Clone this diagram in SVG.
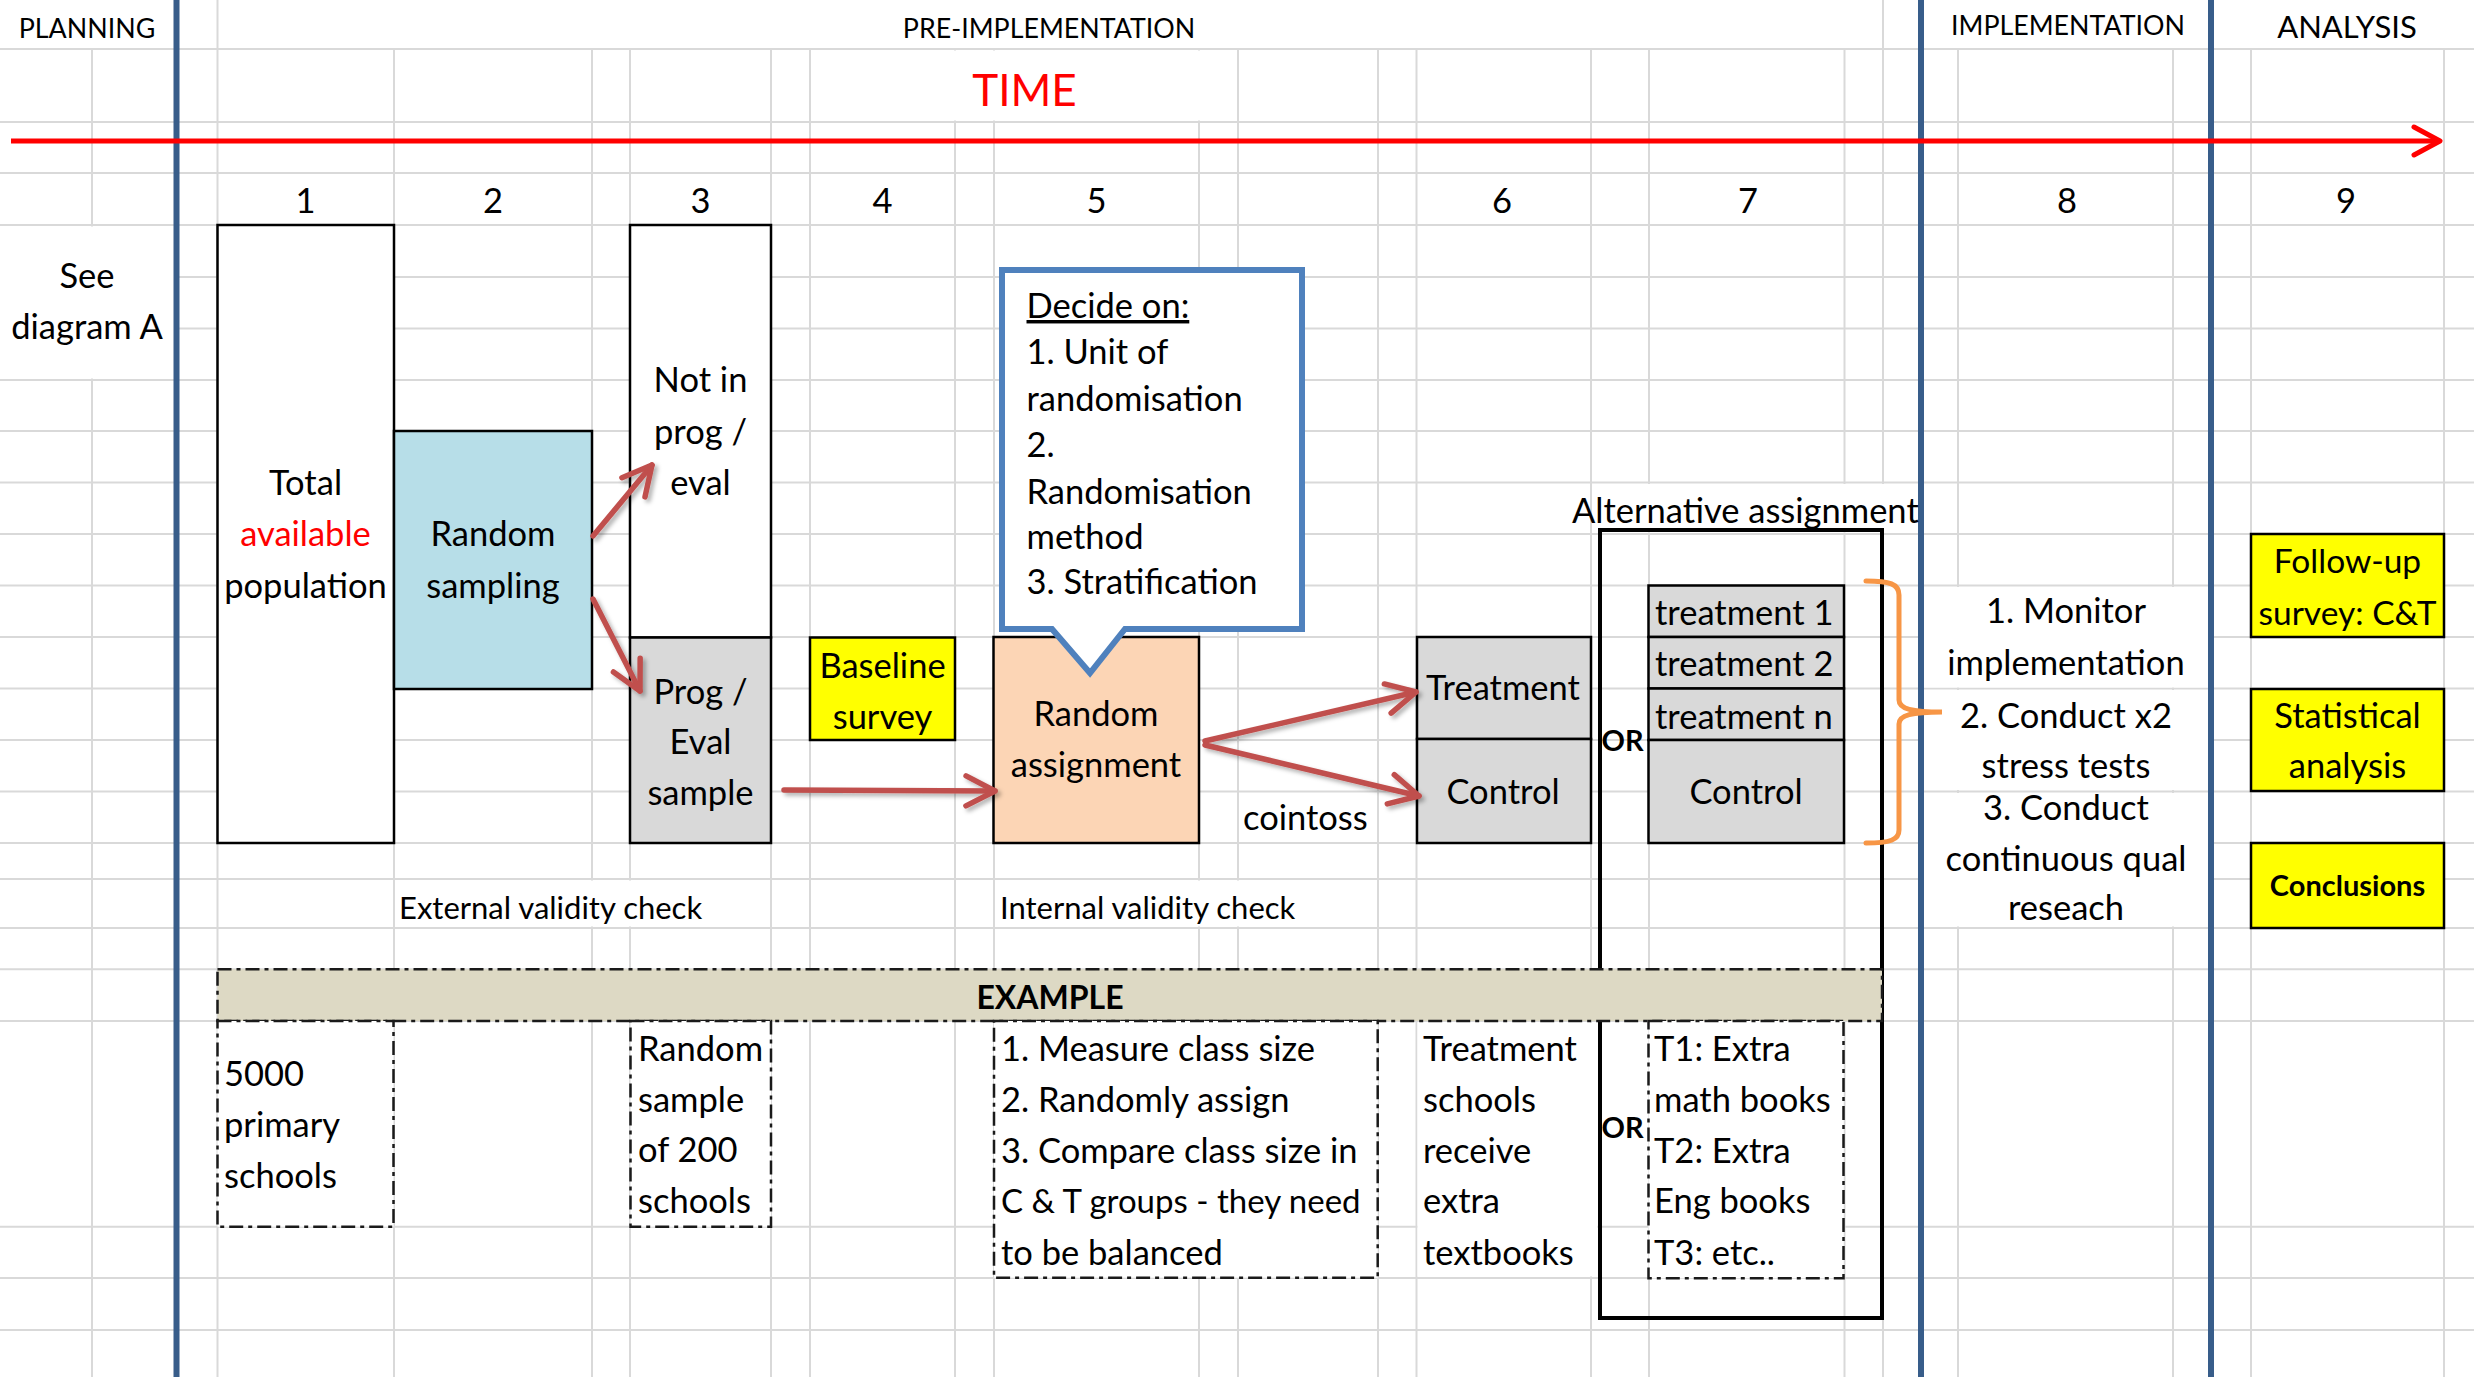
<svg xmlns="http://www.w3.org/2000/svg" width="2474" height="1377" viewBox="0 0 2474 1377">
<defs>
<style>
text{font-family:Lato,'Liberation Sans','DejaVu Sans',sans-serif;fill:#000}
.m{font-size:34.5px}
.c{text-anchor:middle}
.sm{font-size:31px}
.hd{font-size:26.8px}
.b{font-weight:bold}
.grid{fill:none;stroke:#d9d9d9;stroke-width:2}
.cell{fill:#fff}
.phase{fill:none;stroke:#385D8A;stroke-width:6}
.box{stroke:#000;stroke-width:2.5}
.dash{fill:#fff;stroke:#1a1a1a;stroke-width:2.5;stroke-dasharray:14 5 4 5}
.arrow{fill:none;stroke:#C0504D;stroke-width:5.5;stroke-linecap:round;marker-end:url(#head)}
.yel{fill:#FFFF00;stroke:#000;stroke-width:2.5}
.grey{fill:#D9D9D9;stroke:#000;stroke-width:2.5}
</style>
<filter id="shadow" filterUnits="userSpaceOnUse" x="0" y="0" width="2474" height="1377">
<feDropShadow dx="3" dy="3" stdDeviation="2" flood-color="#000" flood-opacity="0.3"/>
</filter>
<marker id="head" viewBox="0 0 40 40" refX="35" refY="20" markerWidth="40" markerHeight="40" markerUnits="userSpaceOnUse" orient="auto">
<path d="M6,5 L35,20 L6,35" fill="none" stroke="#C0504D" stroke-width="5.5" stroke-linecap="round" stroke-linejoin="round"/>
</marker>
<marker id="timehead" viewBox="0 0 36 36" refX="32" refY="18" markerWidth="36" markerHeight="36" markerUnits="userSpaceOnUse" orient="auto">
<path d="M6,4 L32,18 L6,32" fill="none" stroke="#FF0000" stroke-width="5" stroke-linecap="round" stroke-linejoin="round"/>
</marker>
</defs>

<rect width="2474" height="1377" fill="#fff"/>

<!-- spreadsheet grid -->
<g id="grid">
<path class="grid" d="M0,49H2474M0,122H2474M0,173H2474M0,225H2474M0,277H2474M0,328.6H2474M0,380H2474M0,431H2474M0,482.6H2474M0,534H2474M0,585.5H2474M0,637H2474M0,688.5H2474M0,740H2474M0,791.5H2474M0,843H2474M0,879H2474M0,928H2474M0,969.3H2474M0,1021H2474M0,1226.7H2474M0,1278H2474M0,1330H2474"/>
<path class="grid" d="M92,49V1377M394,49V1377M592,49V1377M630,49V1377M771,49V1377M810,49V1377M955,49V1377M994,49V1377M1199,49V1377M1238,49V1377M1378,49V1377M1416.5,49V1377M1591,49V1377M1649,49V1377M1844.5,49V1377M1958,49V1377M2173,49V1377M2251,49V1377M2444,49V1377M217.5,0V1377M1883,0V1377"/>
<!-- merged / overflowing cells hide the grid inside them -->
<rect class="cell" x="811.5" y="50.5" width="425" height="70"/>
<rect class="cell" x="0" y="226.5" width="174" height="152"/>
<rect class="cell" x="1923" y="587" width="286" height="100.5"/>
<rect class="cell" x="1923" y="690" width="286" height="100"/>
<rect class="cell" x="1923" y="793" width="286" height="133.5"/>
<rect class="cell" x="395.5" y="880.5" width="374" height="46"/>
<rect class="cell" x="995.5" y="880.5" width="381" height="46"/>
<rect class="cell" x="1592.5" y="484" width="327" height="48.5"/>
<rect class="cell" x="1417.5" y="1022.5" width="180" height="254"/>
</g>

<!-- phase headers and dividers -->
<g id="phases">
<text class="hd c" x="87" y="38">PLANNING</text>
<text class="hd c" x="1049" y="38">PRE-IMPLEMENTATION</text>
<text class="hd c" x="2068" y="35">IMPLEMENTATION</text>
<text class="c" x="2347" y="38" font-size="31">ANALYSIS</text>
<path class="phase" d="M176.5,0V1377M1921,0V1377M2211,0V1377"/>
</g>

<!-- time axis -->
<g id="time-axis">
<text class="c" x="1024.5" y="106" font-size="44" style="fill:#FF0000">TIME</text>
<line x1="11" y1="141" x2="2440" y2="141" stroke="#FF0000" stroke-width="5" marker-end="url(#timehead)"/>
</g>

<!-- step numbers -->
<g id="steps">
<text class="m c" x="305.5" y="213">1</text>
<text class="m c" x="493" y="213">2</text>
<text class="m c" x="700.5" y="213">3</text>
<text class="m c" x="882.5" y="213">4</text>
<text class="m c" x="1096.5" y="213">5</text>
<text class="m c" x="1502" y="213">6</text>
<text class="m c" x="1748" y="213">7</text>
<text class="m c" x="2067" y="213">8</text>
<text class="m c" x="2346" y="213">9</text>
</g>

<g id="see-diagram-a">
<text class="m c"><tspan x="87" y="288">See</tspan><tspan x="87" y="339">diagram A</tspan></text>
</g>

<g id="total-population">
<rect class="box" x="217.5" y="225" width="176.5" height="618" fill="#fff"/>
<text class="m c"><tspan x="305.5" y="495">Total</tspan><tspan x="305.5" y="546" style="fill:#FF0000">available</tspan><tspan x="305.5" y="598">population</tspan></text>
</g>

<g id="random-sampling">
<rect class="box" x="394" y="431" width="198" height="258" fill="#B7DEE8"/>
<text class="m c"><tspan x="493" y="546">Random</tspan><tspan x="493" y="598">sampling</tspan></text>
</g>

<g id="not-in-prog">
<rect class="box" x="630" y="225" width="141" height="412.5" fill="#fff"/>
<text class="m c"><tspan x="700.5" y="392">Not in</tspan><tspan x="700.5" y="443.5">prog /</tspan><tspan x="700.5" y="495">eval</tspan></text>
</g>

<g id="eval-sample">
<rect class="grey" x="630" y="637.5" width="141" height="205.5"/>
<text class="m c"><tspan x="700.5" y="704">Prog /</tspan><tspan x="700.5" y="754">Eval</tspan><tspan x="700.5" y="805">sample</tspan></text>
</g>

<g id="baseline-survey">
<rect class="yel" x="810" y="637.5" width="145" height="102.5"/>
<text class="m c"><tspan x="882.5" y="678">Baseline</tspan><tspan x="882.5" y="729">survey</tspan></text>
</g>

<g id="random-assignment">
<rect class="box" x="993.5" y="637" width="205.5" height="206" fill="#FCD5B5"/>
<text class="m c"><tspan x="1096" y="726">Random</tspan><tspan x="1096" y="777">assignment</tspan></text>
</g>

<g id="decide-callout">
<path d="M1002,270H1302V629H1125L1090,673L1052,629H1002Z" fill="#fff" stroke="#4F81BD" stroke-width="6" stroke-linejoin="miter"/>
<text class="m"><tspan x="1026.5" y="318" text-decoration="underline">Decide on:</tspan><tspan x="1026.5" y="364">1. Unit of</tspan><tspan x="1026.5" y="411">randomisation</tspan><tspan x="1026.5" y="457">2.</tspan><tspan x="1026.5" y="504">Randomisation</tspan><tspan x="1026.5" y="549">method</tspan><tspan x="1026.5" y="594">3. Stratification</tspan></text>
</g>

<g id="treatment">
<rect class="grey" x="1417" y="637" width="174" height="102"/>
<text class="m c" x="1503" y="700">Treatment</text>
</g>

<g id="control">
<rect class="grey" x="1417" y="739" width="174" height="104"/>
<text class="m c" x="1503" y="803.5">Control</text>
</g>

<text id="cointoss" class="m" x="1243" y="830">cointoss</text>

<g id="alternative-assignment">
<text class="m" x="1572" y="523">Alternative assignment</text>
<rect x="1600" y="530" width="282" height="788" fill="none" stroke="#000" stroke-width="4"/>
<text class="b" x="1601.5" y="751" font-size="29">OR</text>
</g>

<g id="multi-arm">
<rect class="grey" x="1648.5" y="585.5" width="195.5" height="51.5"/>
<rect class="grey" x="1648.5" y="637" width="195.5" height="51.5"/>
<rect class="grey" x="1648.5" y="688.5" width="195.5" height="51.5"/>
<rect class="grey" x="1648.5" y="740" width="195.5" height="103"/>
<text class="m" x="1655" y="625">treatment 1</text>
<text class="m" x="1655" y="676">treatment 2</text>
<text class="m" x="1655" y="729">treatment n</text>
<text class="m c" x="1746" y="803.5">Control</text>
</g>

<path id="brace" d="M1866,581C1890,581 1899,584 1899,595L1899,700C1899,709 1912,712 1942,712C1912,712 1899,715 1899,724L1899,830C1899,840 1890,843 1866,843" fill="none" stroke="#F79646" stroke-width="5" stroke-linecap="round"/>

<g id="implementation-tasks">
<text class="m c"><tspan x="2066" y="623">1. Monitor</tspan><tspan x="2066" y="675">implementation</tspan><tspan x="2066" y="728">2. Conduct x2</tspan><tspan x="2066" y="778">stress tests</tspan><tspan x="2066" y="820">3. Conduct</tspan><tspan x="2066" y="871">continuous qual</tspan><tspan x="2066" y="920">reseach</tspan></text>
</g>

<g id="follow-up">
<rect class="yel" x="2251" y="534" width="193" height="103"/>
<text class="c" font-size="33.5"><tspan x="2347.5" y="573">Follow-up</tspan><tspan x="2347.5" y="625">survey: C&amp;T</tspan></text>
</g>

<g id="statistical-analysis">
<rect class="yel" x="2251" y="689" width="193" height="102"/>
<text class="m c"><tspan x="2347.5" y="727.5">Statistical</tspan><tspan x="2347.5" y="778">analysis</tspan></text>
</g>

<g id="conclusions">
<rect class="yel" x="2251" y="843" width="193" height="85"/>
<text class="b c" x="2347.5" y="896" font-size="29">Conclusions</text>
</g>

<text id="external-check" class="sm" x="399" y="919">External validity check</text>
<text id="internal-check" class="sm" x="1000" y="919">Internal validity check</text>

<!-- worked example -->
<g id="example-header">
<rect x="217.5" y="969.3" width="1664.5" height="51.7" fill="#DDD9C4" stroke="#1a1a1a" stroke-width="2.5" stroke-dasharray="14 5 4 5"/>
<text class="b c" x="1050" y="1009" font-size="32">EXAMPLE</text>
</g>

<g id="example-population">
<rect class="dash" x="217.5" y="1021" width="176" height="205.7"/>
<text class="m"><tspan x="224" y="1086">5000</tspan><tspan x="224" y="1137">primary</tspan><tspan x="224" y="1188">schools</tspan></text>
</g>

<g id="example-sample">
<rect class="dash" x="630.5" y="1021" width="140.5" height="205.7"/>
<text class="m"><tspan x="638" y="1061">Random</tspan><tspan x="638" y="1112">sample</tspan><tspan x="638" y="1162">of 200</tspan><tspan x="638" y="1213">schools</tspan></text>
</g>

<g id="example-assignment">
<rect class="dash" x="994" y="1021" width="383.7" height="256.7"/>
<text class="m"><tspan x="1001" y="1061">1. Measure class size</tspan><tspan x="1001" y="1112">2. Randomly assign</tspan><tspan x="1001" y="1163">3. Compare class size in</tspan><tspan x="1001" y="1213" font-size="33">C &amp; T groups - they need</tspan><tspan x="1001" y="1265">to be balanced</tspan></text>
</g>

<g id="example-treatment">
<text class="m"><tspan x="1423" y="1061">Treatment</tspan><tspan x="1423" y="1112">schools</tspan><tspan x="1423" y="1163">receive</tspan><tspan x="1423" y="1213">extra</tspan><tspan x="1423" y="1265">textbooks</tspan></text>
</g>

<text id="example-or" class="b" x="1601.5" y="1138" font-size="29">OR</text>

<g id="example-arms">
<rect class="dash" x="1648.5" y="1021" width="195" height="257.3"/>
<text class="m"><tspan x="1654" y="1061">T1: Extra</tspan><tspan x="1654" y="1112">math books</tspan><tspan x="1654" y="1163">T2: Extra</tspan><tspan x="1654" y="1213">Eng books</tspan><tspan x="1654" y="1265">T3: etc..</tspan></text>
</g>

<!-- flow arrows, with a soft drop shadow -->
<g id="connectors" filter="url(#shadow)">
<path class="arrow" d="M593,536L652,465"/>
<path class="arrow" d="M593,599L640,691"/>
<path class="arrow" d="M784,790L995,791"/>
<path class="arrow" d="M1205,741L1416,692"/>
<path class="arrow" d="M1205,745L1419,796"/>
</g>
</svg>
